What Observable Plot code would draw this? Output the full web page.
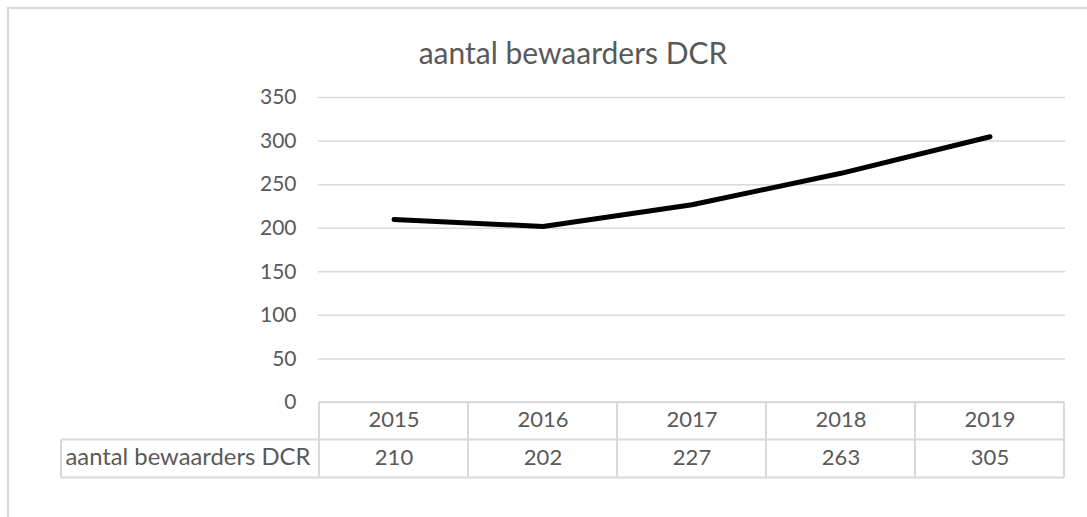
<!DOCTYPE html>
<html>
<head>
<meta charset="utf-8">
<script src="https://cdn.jsdelivr.net/npm/d3@7"></script>
<script src="https://cdn.jsdelivr.net/npm/@observablehq/plot@0.6"></script>
<style>
  html, body { margin: 0; padding: 0; background: #fff; overflow: hidden; }
  #wrap { position: relative; width: 1087px; height: 517px; overflow: hidden; }
  #border { position: absolute; left: 7px; top: 7px; width: 1200px; height: 600px; border: 2px solid #d9d9d9; box-sizing: border-box; }
  #chart { position: absolute; left: 0; top: 0; }
</style>
</head>
<body>
<div id="wrap">
  <div id="border"></div>
  <div id="chart"></div>
</div>
<script>
const title = "aantal bewaarders DCR";
const seriesName = "aantal bewaarders DCR";
const years = ["2015", "2016", "2017", "2018", "2019"];
const values = [210, 202, 227, 263, 305];
const yTicks = [0, 50, 100, 150, 200, 250, 300, 350];

const data = years.map((year, i) => ({year, value: values[i]}));

const textColor = "#595959";
const gridColor = "#d9d9d9";
const font = "Lato, 'Open Sans', sans-serif";

const plot = Plot.plot({
  width: 1087,
  height: 517,
  marginLeft: 318,
  marginRight: 22,
  marginTop: 97,
  marginBottom: 115,
  x: {type: "band", domain: years, padding: 0, axis: null},
  y: {domain: [0, 350], axis: null},
  style: {fontFamily: font, color: textColor, background: "transparent", overflow: "visible"},
  marks: [
    Plot.gridY(yTicks, {stroke: gridColor, strokeOpacity: 1, strokeWidth: 1.5}),
    Plot.axisY(yTicks, {label: null, tickSize: 0, tickPadding: 22, fontSize: 21, fill: textColor, tickFormat: d => String(d)}),
    Plot.line(data, {x: "year", y: "value", stroke: "#000", strokeWidth: 5, strokeLinecap: "round", strokeLinejoin: "round"}),
    Plot.text(data, {x: "year", text: "year", frameAnchor: "bottom", dy: 24, fontSize: 22, fill: textColor}),
    Plot.text(data, {x: "year", text: d => String(d.value), frameAnchor: "bottom", dy: 62, fontSize: 22, fill: textColor}),
    Plot.text([seriesName], {text: d => d, frameAnchor: "bottom-left", dx: -253, dy: 62, textAnchor: "start", fontSize: 23.8, fill: textColor}),
    Plot.text([title], {text: d => d, frameAnchor: "top", dx: -119, dy: -55, fontSize: 30, fill: textColor})
  ]
});

document.getElementById("chart").appendChild(plot);

// data-table borders, placed with the plot's own scales
const xs = plot.scale("x");
const ys = plot.scale("y");
const bw = xs.bandwidth;
const left = xs.apply(years[0]);
const right = xs.apply(years[years.length - 1]) + bw;
const y0 = ys.apply(0);
const row1 = y0 + 37.5;
const row2 = y0 + 75.5;
const labelLeft = 61;

const g = d3.select(plot).append("g")
  .attr("stroke", gridColor).attr("stroke-width", 2).attr("fill", "none");
const seg = (x1, y1, x2, y2) => g.append("line").attr("x1", x1).attr("y1", y1).attr("x2", x2).attr("y2", y2);
seg(left, y0, right, y0);
seg(labelLeft, row1, right, row1);
seg(labelLeft, row2, right, row2);
seg(labelLeft, row1, labelLeft, row2);
years.forEach(y => seg(xs.apply(y), y0, xs.apply(y), row2));
seg(right, y0, right, row2);
</script>
</body>
</html>
